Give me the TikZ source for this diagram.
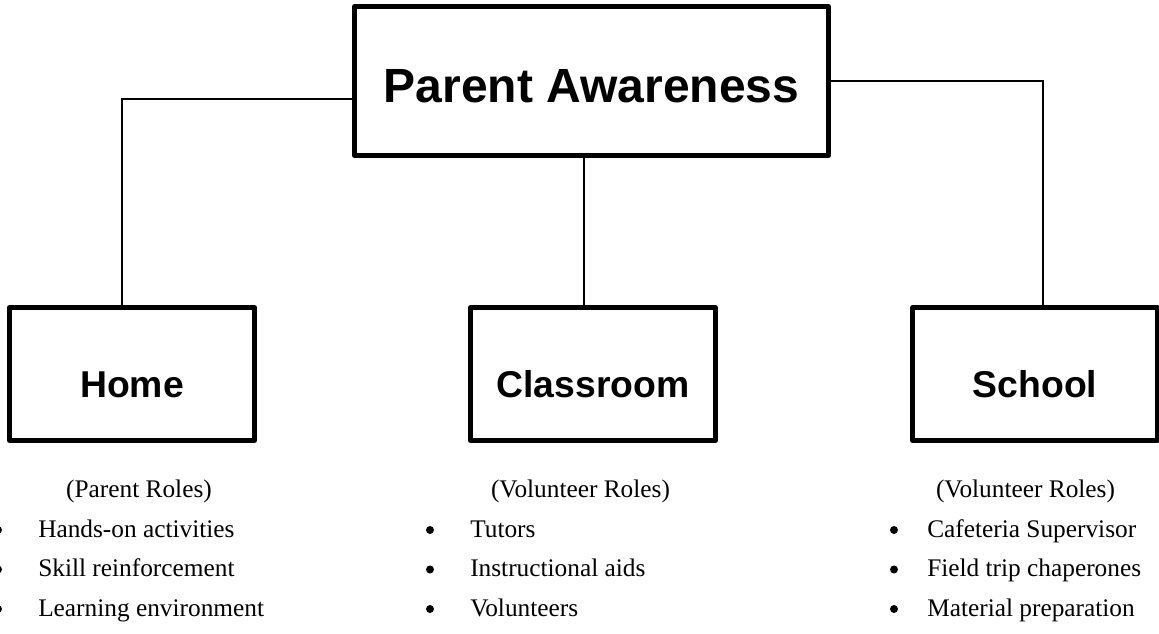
\documentclass[tikz,border=0pt]{standalone}
\usepackage{fontspec}
\setmainfont{Liberation Serif}
\newfontfamily\boxfont{Liberation Sans}
\usetikzlibrary{calc}
\tikzset{
  topbox/.style={draw, line width=3.75pt, line join=round, minimum width=355.5pt, minimum height=111.75pt, inner sep=0pt},
  rolebox/.style={draw, line width=3.75pt, line join=round, minimum width=183.75pt, minimum height=99.75pt, inner sep=0pt},
  toptitle/.style={anchor=base, inner sep=0pt, font=\boxfont\bfseries\fontsize{36}{40}\selectfont},
  roletitle/.style={anchor=base, inner sep=0pt, font=\boxfont\bfseries\fontsize{28}{32}\selectfont},
  rolehead/.style={anchor=base, inner sep=0pt, font=\fontsize{19}{22}\selectfont},
  roleitem/.style={anchor=base west, inner sep=0pt, font=\fontsize{19}{22}\selectfont},
  dot/.style={circle, fill, inner sep=0pt, minimum size=6pt},
  link/.style={line width=1.5pt}
}
\begin{document}
\begin{tikzpicture}[x=0.75pt,y=-0.75pt]
\useasboundingbox (0,0) rectangle (1159,634);
\begin{scope}
\clip (0,0) rectangle (1159,622);
% boxes
\node[topbox] (aware) at (591.5,81) {};
\node[rolebox] (home) at (132,374) {};
\node[rolebox] (class) at (593,374) {};
\node[rolebox] (school) at (1035,374) {};
\node[toptitle] (aware-t) at (591.5,103) {Parent Awareness};
\node[roletitle] (home-t) at (132,397) {Home};
\node[roletitle] (class-t) at (593,397) {Classroom};
\node[roletitle] (school-t) at (1035,397) {School};
% connectors
\draw[link] ([yshift=-13.5pt]aware.west) -| ([xshift=-7.5pt]home.north);
\draw[link] ([xshift=-5.6pt]aware.south) -- ([xshift=-5.6pt]aware.south |- class.north);
\draw[link] (aware.east) -| ([xshift=6pt]school.north);
% role lists
\node[rolehead] (home-h) at (139,497.5) {(Parent Roles)};
\node[rolehead] (class-h) at (580.5,497.5) {(Volunteer Roles)};
\node[rolehead] (school-h) at (1025.5,497.5) {(Volunteer Roles)};
\foreach \t [count=\i] in {Hands-on activities, Skill reinforcement, Learning environment}{
  \node[dot] (home-b\i) at (-2,{530+39.5*(\i-1)}) {};
  \node[roleitem] (home-\i) at (38,{537+39.5*(\i-1)}) {\t};
}
\foreach \t [count=\i] in {Tutors, Instructional aids, Volunteers}{
  \node[dot] (class-b\i) at (430,{530+39.5*(\i-1)}) {};
  \node[roleitem] (class-\i) at (470,{537+39.5*(\i-1)}) {\t};
}
\foreach \t [count=\i] in {Cafeteria Supervisor, Field trip chaperones, Material preparation}{
  \node[dot] (school-b\i) at (894,{530+39.5*(\i-1)}) {};
  \node[roleitem] (school-\i) at (927,{537+39.5*(\i-1)}) {\t};
}
\end{scope}
\end{tikzpicture}
\end{document}
